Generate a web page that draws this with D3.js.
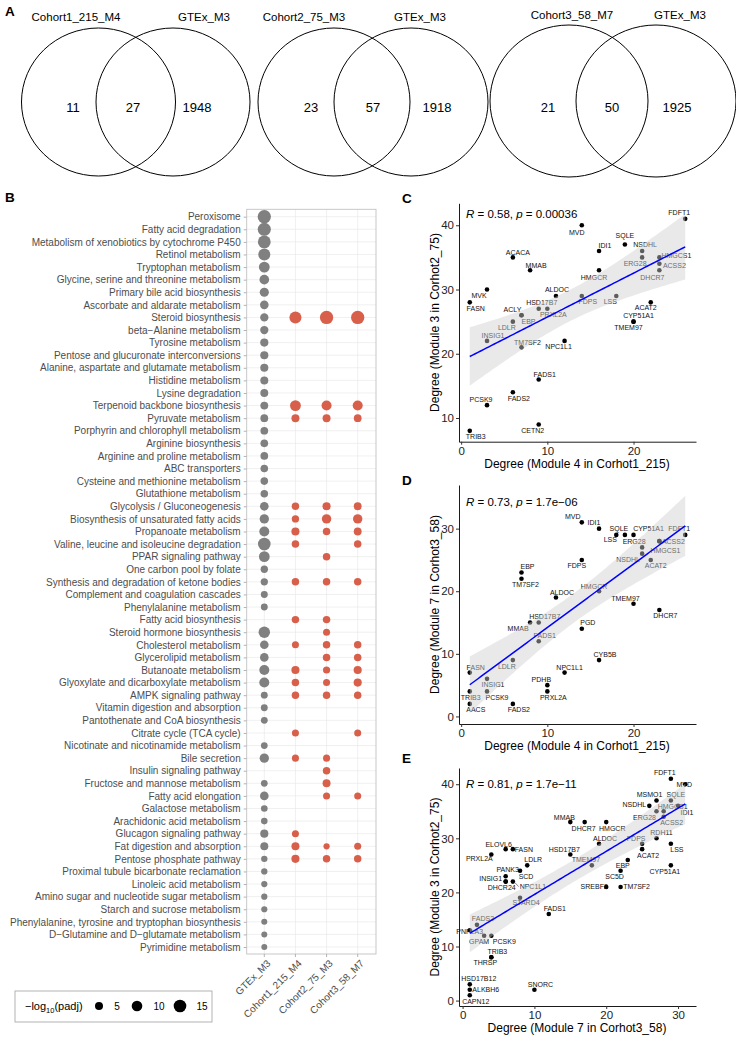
<!DOCTYPE html>
<html><head><meta charset="utf-8">
<script src="https://cdn.jsdelivr.net/npm/d3@7"></script>
<style>
body{margin:0;background:#fff}
svg{display:block}
text{font-family:"Liberation Sans",Arial,Helvetica,sans-serif}
</style>
</head><body>
<svg id="fig" width="736" height="1037"></svg>
<script>
// ---------------- DATA ----------------
// Panel A (Venn counts)
const vennLeftNames  = ["Cohort1_215_M4", "Cohort2_75_M3", "Cohort3_58_M7"];
const vennRightNames = ["GTEx_M3", "GTEx_M3", "GTEx_M3"];
const vennOnlyLeft   = [11, 23, 21];
const vennBoth       = [27, 57, 50];
const vennOnlyRight  = [1948, 1918, 1925];

// Panel B (KEGG enrichment, -log10 padj; null = not enriched)
const bColumns = ["GTEx_M3", "Cohort1_215_M4", "Cohort2_75_M3", "Cohort3_58_M7"];
const pathways = [
 "Peroxisome","Fatty acid degradation","Metabolism of xenobiotics by cytochrome P450","Retinol metabolism",
 "Tryptophan metabolism","Glycine, serine and threonine metabolism","Primary bile acid biosynthesis",
 "Ascorbate and aldarate metabolism","Steroid biosynthesis","beta\u2212Alanine metabolism","Tyrosine metabolism",
 "Pentose and glucuronate interconversions","Alanine, aspartate and glutamate metabolism","Histidine metabolism",
 "Lysine degradation","Terpenoid backbone biosynthesis","Pyruvate metabolism","Porphyrin and chlorophyll metabolism",
 "Arginine biosynthesis","Arginine and proline metabolism","ABC transporters","Cysteine and methionine metabolism",
 "Glutathione metabolism","Glycolysis / Gluconeogenesis","Biosynthesis of unsaturated fatty acids",
 "Propanoate metabolism","Valine, leucine and isoleucine degradation","PPAR signaling pathway",
 "One carbon pool by folate","Synthesis and degradation of ketone bodies","Complement and coagulation cascades",
 "Phenylalanine metabolism","Fatty acid biosynthesis","Steroid hormone biosynthesis","Cholesterol metabolism",
 "Glycerolipid metabolism","Butanoate metabolism","Glyoxylate and dicarboxylate metabolism","AMPK signaling pathway",
 "Vitamin digestion and absorption","Pantothenate and CoA biosynthesis","Citrate cycle (TCA cycle)",
 "Nicotinate and nicotinamide metabolism","Bile secretion","Insulin signaling pathway",
 "Fructose and mannose metabolism","Fatty acid elongation","Galactose metabolism","Arachidonic acid metabolism",
 "Glucagon signaling pathway","Fat digestion and absorption","Pentose phosphate pathway",
 "Proximal tubule bicarbonate reclamation","Linoleic acid metabolism","Amino sugar and nucleotide sugar metabolism",
 "Starch and sucrose metabolism","Phenylalanine, tyrosine and tryptophan biosynthesis",
 "D\u2212Glutamine and D\u2212glutamate metabolism","Pyrimidine metabolism"];
const gtexVals = [17,16.5,15.5,13.5,10.5,8,7,6,5.5,5.4,5.3,5.2,5.1,5,4.9,4.8,4.7,4.6,4.5,4.5,4.4,4.3,4.2,6.1,7.3,8.7,15,10.3,4,4,3.5,3.4,null,12,6,6,8.7,8.7,3.4,3.4,3.3,null,3.2,7.3,null,3.2,6,3.1,3,5.2,5,2.8,2.7,2.6,2.6,2.5,2.4,2.3,2.3];
const cohort1Vals = [null,null,null,null,null,null,null,null,13.5,null,null,null,null,null,null,10.5,5,null,null,null,null,null,null,4.2,4,5.2,4.2,null,null,4.2,null,null,4.2,null,3.6,null,5.2,4.2,4.2,null,null,3.6,null,3.6,null,null,null,null,null,3.6,5,5.2,null,null,null,null,null,null,null];
const cohort2Vals = [null,null,null,null,null,null,null,null,17,null,null,null,null,null,null,8.7,5,null,null,null,null,null,null,5.2,7.5,4.2,null,4.2,null,4.2,null,null,4.2,3.6,4.2,4.2,3.8,3.6,4.2,null,null,null,null,3.6,4.2,5,3.6,null,null,null,2.6,4.2,null,null,null,null,null,null,null];
const cohort3Vals = [null,null,null,null,null,null,null,null,17,null,null,null,null,null,null,8.7,4.6,null,null,null,null,null,null,4.8,7.5,4.8,4.2,null,null,4.2,null,null,null,null,4.2,4.2,5.2,5.2,4.2,null,null,3.6,null,null,null,null,3.6,null,null,null,3.6,4.2,null,null,null,null,null,null,null];
const legendSizes = [5, 10, 15];

// Panel C
const genesC = ["FDFT1","MVD","SQLE","IDI1","NSDHL","HMGCS1","ERG28","ACSS2","DHCR7","HMGCR","ACACA","MMAB","MVK","FASN","ALDOC","FDPS","LSS","ACAT2","CYP51A1","TMEM97","HSD17B7","PRXL2A","ACLY","EBP","LDLR","INSIG1","TM7SF2","NPC1L1","FADS1","FADS2","PCSK9","CETN2","TRIB3"];
const xC = [26,14,19,16,21,23,21,23,23,16,6,8,3,1,11,14,18,22,20,20,9,10,7,7,6,3,7,12,9,6,3,9,1];
const yC = [41,40,37,36,36,35,35,34,33,33,35,33,30,28,29,29,29,28,25,25,27,27,26,26,25,22,21,22,16,14,12,9,8];
// Panel D
const genesD = ["MVD","IDI1","SQLE","CYP51A1","FDFT1","LSS","ERG28","ACSS2","HMGCS1","NSDHL","ACAT2","FDPS","EBP","TM7SF2","HMGCR","ALDOC","TMEM97","DHCR7","HSD17B7","MMAB","PGD","FADS1","CYB5B","LDLR","FASN","NPC1L1","INSIG1","PDHB","TRIB3","PCSK9","PRXL2A","AACS","FADS2"];
const xD = [14,16,19,20,26,18,21,23,23,21,22,14,7,7,16,11,20,23,9,8,14,9,16,6,1,12,3,10,1,3,10,1,6];
const yD = [31,30,29,29,29,29,27,28,28,26,25,25,23,22,20,19,18,17,15,15,14,12,9,9,7,7,6,5,4,4,4,2,2];
// Panel E
const genesE = ["FDFT1","MVD","MSMO1","SQLE","NSDHL","HMGCS1","IDI1","ERG28","ACSS2","MMAB","DHCR7","HMGCR","ALDOC","FDPS","RDH11","LSS","ACAT2","ELOVL6","FASN","PRXL2A","HSD17B7","TMEM97","EBP","LDLR","CYP51A1","SC5D","PANK3","SCD","INSIG1","DHCR24","NPC1L1","SREBF2","TM7SF2","STARD4","FADS1","FADS2","PNPLA3","GPAM","PCSK9","TRIB3","THRSP","SNORC","HSD17B12","ALKBH6","CAPN12"];
const xE = [29,31,27,29,26,28,30,27,28,15,17,20,19,25,27,29,25,6,7,4,15,18,23,9,29,22,6,8,6,6,7,20,22,8,12,2,1,3,4,4,4,10,1,1,1];
const yE = [41,40,37,37,36,35,36,35,34,33,33,33,29,29,30,29,28,28,28,27,27,25,26,25,25,24,23,24,22,22,22,21,21,19,16,14,13,12,12,8,8,2,3,2,1];

const statR = ["0.58", "0.73", "0.81"];
const statP = ["0.00036", "1.7e\u221206", "1.7e\u221211"];
const xTitles = ["Degree (Module 4 in Corhot1_215)", "Degree (Module 4 in Corhot1_215)", "Degree (Module 7 in Corhot3_58)"];
const yTitles = ["Degree (Module 3 in Corhot2_75)", "Degree (Module 7 in Corhot3_58)", "Degree (Module 3 in Corhot2_75)"];

// ---------------- LAYOUT (label nudges, px) ----------------
const nudgeC = {FDFT1:[-6,-6],MVD:[-5,7],SQLE:[0,-9],IDI1:[6,-5],NSDHL:[3,-6],HMGCS1:[17,-2],ERG28:[-7,6],ACSS2:[15,2],DHCR7:[-7,7],HMGCR:[-5,7],ACACA:[5,-5],MMAB:[6,-5],MVK:[-8,6],FASN:[6,6],ALDOC:[1,-6],FDPS:[6,6],LSS:[-6,6],ACAT2:[-5,5],CYP51A1:[5,-6],TMEM97:[-5,6],HSD17B7:[3,-6],PRXL2A:[6,6],ACLY:[-9,-6],EBP:[7,6],LDLR:[-6,6],INSIG1:[6,-5],TM7SF2:[6,-5],NPC1L1:[-6,6],FADS1:[6,-5],FADS2:[6,6],PCSK9:[-6,-6],CETN2:[-6,6],TRIB3:[6,6]};
const nudgeD = {MVD:[-9,-6],IDI1:[-5,-6],SQLE:[-6,-6],CYP51A1:[15,-6],FDFT1:[-6,-6],LSS:[-6,5],ERG28:[-8,-6],ACSS2:[14,0],HMGCS1:[6,9],NSDHL:[-14,6],ACAT2:[5,6],FDPS:[-5,6],EBP:[6,-6],TM7SF2:[4,6],HMGCR:[-5,-5],ALDOC:[6,-5],TMEM97:[-8,-5],DHCR7:[6,6],HSD17B7:[6,-6],MMAB:[-12,6],PGD:[6,-6],FADS1:[6,-6],CYB5B:[6,-6],LDLR:[-6,6],FASN:[6,-5],NPC1L1:[5,-5],INSIG1:[6,6],PDHB:[-6,-6],TRIB3:[1,6],PCSK9:[10,6],PRXL2A:[6,6],AACS:[6,6],FADS2:[6,6]};
const nudgeE = {FDFT1:[-6,-6],MVD:[-1,0],MSMO1:[-7,-6],SQLE:[5,-6],NSDHL:[-15,-1],HMGCS1:[9,-5],IDI1:[9,7],ERG28:[-12,6],ACSS2:[8,6],MMAB:[-6,-5],DHCR7:[-1,6],HMGCR:[6,6],ALDOC:[6,-5],FDPS:[-6,-5],RDH11:[5,-6],LSS:[6,6],ACAT2:[6,6],ELOVL6:[-7,-5],FASN:[11,0],PRXL2A:[-12,4],HSD17B7:[-6,-5],TMEM97:[-6,-6],EBP:[-5,6],LDLR:[6,-6],CYP51A1:[-6,6],SC5D:[-6,6],PANK3:[2,-7],SCD:[6,6],INSIG1:[-15,-3],DHCR24:[-4,6],NPC1L1:[20,5],SREBF2:[-12,0],TM7SF2:[16,0],STARD4:[6,5],FADS1:[6,-5],FADS2:[6,-6],PNPLA3:[0,1],GPAM:[-5,6],PCSK9:[13,6],TRIB3:[6,-6],THRSP:[-6,5],SNORC:[6,-5],HSD17B12:[9,-6],ALKBH6:[16,0],CAPN12:[6,6]};
const leaderE = ["NPC1L1"];

const svg = d3.select("#fig");
const FONT = '"Liberation Sans",Arial,Helvetica,sans-serif';

function letter(t, x, y) {
  svg.append("text").attr("x", x).attr("y", y).attr("font-size", 13.5).attr("font-weight", "bold").attr("fill", "#000").text(t);
}

// ---------------- PANEL A ----------------
letter("A", 5, 16);
const vennGeo = [
  {lcx: 98.5, rcx: 173, cy: 102, lrx: 77, rrx: 77, ry: 74, ly: 17, lLab: 76, rLab: 204, n: [73, 133, 197]},
  {lcx: 334, rcx: 411, cy: 102, lrx: 76, rrx: 77, ry: 74, ly: 17, lLab: 304, rLab: 420, n: [311, 373, 437]},
  {lcx: 569, rcx: 656, cy: 101, lrx: 79, rrx: 80, ry: 76, ly: 15, lLab: 572, rLab: 680, n: [548, 612, 677]}
];
vennGeo.forEach((g, i) => {
  const gA = svg.append("g");
  gA.append("ellipse").attr("cx", g.lcx).attr("cy", g.cy).attr("rx", g.lrx).attr("ry", g.ry)
    .attr("fill", "none").attr("stroke", "#000").attr("stroke-width", 1);
  gA.append("ellipse").attr("cx", g.rcx).attr("cy", g.cy).attr("rx", g.rrx).attr("ry", g.ry)
    .attr("fill", "none").attr("stroke", "#000").attr("stroke-width", 1);
  gA.append("text").attr("x", g.lLab).attr("y", g.ly).attr("dy", "0.35em").attr("text-anchor", "middle")
    .attr("font-size", 11.5).text(vennLeftNames[i]);
  gA.append("text").attr("x", g.rLab).attr("y", g.ly).attr("dy", "0.35em").attr("text-anchor", "middle")
    .attr("font-size", 11.5).text(vennRightNames[i]);
  [vennOnlyLeft[i], vennBoth[i], vennOnlyRight[i]].forEach((v, k) => {
    gA.append("text").attr("x", g.n[k]).attr("y", 107).attr("dy", "0.35em").attr("text-anchor", "middle")
      .attr("font-size", 13).text(v);
  });
});

// ---------------- PANEL B ----------------
letter("B", 5, 202);
const bFrame = {l: 246.7, r: 376, t: 209.3, b: 954};
const yB = d3.scalePoint().domain(pathways).range([216.7, 947]);
const xB = d3.scalePoint().domain(bColumns).range([264.3, 357.7]);
const sizeB = d3.scaleSqrt().domain([1, 16]).range([2.26, 6.48]);
const gB = svg.append("g");
// grid
gB.selectAll("line.gy").data(pathways).join("line")
  .attr("x1", bFrame.l).attr("x2", bFrame.r).attr("y1", d => yB(d)).attr("y2", d => yB(d))
  .attr("stroke", "#e6e6e6").attr("stroke-width", 0.6);
gB.selectAll("line.gx").data(bColumns).join("line")
  .attr("y1", bFrame.t).attr("y2", bFrame.b).attr("x1", d => xB(d)).attr("x2", d => xB(d))
  .attr("stroke", "#e6e6e6").attr("stroke-width", 0.6);
// points
const bSeries = [gtexVals, cohort1Vals, cohort2Vals, cohort3Vals];
const bPoints = [];
bSeries.forEach((arr, ci) => arr.forEach((v, ri) => { if (v != null) bPoints.push({col: bColumns[ci], path: pathways[ri], v, ci}); }));
gB.selectAll("circle").data(bPoints).join("circle")
  .attr("cx", d => xB(d.col)).attr("cy", d => yB(d.path)).attr("r", d => sizeB(d.v))
  .attr("fill", d => d.ci === 0 ? "#808080" : "#d8604b");
gB.append("rect").attr("x", bFrame.l).attr("y", bFrame.t).attr("width", bFrame.r - bFrame.l).attr("height", bFrame.b - bFrame.t)
  .attr("fill", "none").attr("stroke", "#c2c2c2").attr("stroke-width", 0.9);
// y axis
const yAxB = d3.axisLeft(yB).tickSize(3).tickPadding(3).tickSizeOuter(0);
const gy = gB.append("g").attr("transform", `translate(${bFrame.l},0)`).call(yAxB);
gy.select(".domain").remove();
gy.selectAll("line").attr("stroke", "#b3b3b3");
gy.selectAll("text").attr("font-size", 10).attr("fill", "#4d4d4d").attr("font-family", FONT);
// x axis
gB.selectAll("line.xt").data(bColumns).join("line")
  .attr("x1", d => xB(d)).attr("x2", d => xB(d)).attr("y1", bFrame.b).attr("y2", bFrame.b + 3).attr("stroke", "#b3b3b3");
gB.selectAll("text.xl").data(bColumns).join("text")
  .attr("transform", d => `translate(${xB(d) + 2},${bFrame.b + 5}) rotate(-45)`)
  .attr("text-anchor", "end").attr("dy", "0.7em").attr("font-size", 10).attr("fill", "#4d4d4d").text(d => d);
// legend
const gL = svg.append("g");
gL.append("rect").attr("x", 15).attr("y", 991).attr("width", 197).attr("height", 31)
  .attr("fill", "#fff").attr("stroke", "#a0a0a0").attr("stroke-width", 0.8);
const lt = gL.append("text").attr("x", 25).attr("y", 1010).attr("font-size", 11).attr("fill", "#000");
lt.append("tspan").text("\u2212log");
lt.append("tspan").attr("font-size", 7.5).attr("dy", 2.5).text("10");
lt.append("tspan").attr("dy", -2.5).text("(padj)");
const legX = [99, 137, 180];
const legTX = [117, 159, 202];
legendSizes.forEach((s, i) => {
  gL.append("circle").attr("cx", legX[i]).attr("cy", 1006).attr("r", sizeB(s)).attr("fill", "#000");
  gL.append("text").attr("x", legTX[i]).attr("y", 1006).attr("dy", "0.35em").attr("text-anchor", "middle")
    .attr("font-size", 10).text(s);
});

// ---------------- SCATTER PANELS ----------------
function tq(df) {
  const z = 1.959964;
  return z + (z**3 + z) / (4*df) + (5*z**5 + 16*z**3 + 3*z) / (96*df*df) + (3*z**7 + 19*z**5 + 17*z**3 - 15*z) / (384*df**3);
}
function scatter(k, genes, xs, ys, nudge, top, bottom, xTicks, yTicks, letterY, statY, leaders) {
  const n = xs.length;
  const xbar = d3.mean(xs), ybar = d3.mean(ys);
  let sxx = 0, sxy = 0;
  for (let i = 0; i < n; i++) { sxx += (xs[i]-xbar)**2; sxy += (xs[i]-xbar)*(ys[i]-ybar); }
  const b = sxy / sxx, a = ybar - b*xbar;
  let sse = 0; for (let i = 0; i < n; i++) sse += (ys[i] - a - b*xs[i])**2;
  const s = Math.sqrt(sse / (n - 2)), t = tq(n - 2);
  const [xmin, xmax] = d3.extent(xs);
  const band = d3.range(80).map(i => {
    const x0 = xmin + (xmax - xmin) * i / 79, yh = a + b*x0;
    const se = s * Math.sqrt(1/n + (x0-xbar)**2 / sxx);
    return {x: x0, y: yh, lo: yh - t*se, hi: yh + t*se};
  });
  const ylo = Math.min(d3.min(ys), d3.min(band, d => d.lo));
  const yhi = Math.max(d3.max(ys), d3.max(band, d => d.hi));
  const xr = xmax - xmin, yr = yhi - ylo;
  const x = d3.scaleLinear().domain([xmin - 0.05*xr, xmax + 0.05*xr]).range([459, 696]);
  const y = d3.scaleLinear().domain([ylo - 0.05*yr, yhi + 0.05*yr]).range([bottom, top]);
  const g = svg.append("g");
  letter(["C","D","E"][k], 402, letterY);
  // axes
  const ax = g.append("g").attr("transform", `translate(0,${bottom})`)
    .call(d3.axisBottom(x).tickValues(xTicks).tickSize(3).tickPadding(2).tickSizeOuter(0));
  const ay = g.append("g").attr("transform", `translate(459,0)`)
    .call(d3.axisLeft(y).tickValues(yTicks).tickSize(3).tickPadding(2).tickSizeOuter(0));
  [ax, ay].forEach(a0 => {
    a0.select(".domain").attr("stroke", "#000").attr("stroke-width", 0.9);
    a0.selectAll(".tick line").attr("stroke", "#333");
    a0.selectAll("text").attr("font-size", 11.5).attr("fill", "#222").attr("font-family", FONT);
  });
  g.append("text").attr("x", 577).attr("y", bottom + 26).attr("text-anchor", "middle").attr("font-size", 12)
    .text(xTitles[k]);
  g.append("text").attr("transform", `translate(439,${(top + bottom)/2}) rotate(-90)`).attr("text-anchor", "middle")
    .attr("font-size", 12).text(yTitles[k]);
  // points
  const pts = genes.map((gname, i) => ({g: gname, x: xs[i], y: ys[i]}));
  g.selectAll("circle.pt").data(pts).join("circle").attr("class", "pt")
    .attr("cx", d => x(d.x)).attr("cy", d => y(d.y)).attr("r", 2.3).attr("fill", "#000");
  // labels
  const lab = g.selectAll("text.lab").data(pts).join("text").attr("class", "lab")
    .attr("x", d => x(d.x) + nudge[d.g][0]).attr("y", d => y(d.y) + nudge[d.g][1])
    .attr("dy", "0.35em").attr("text-anchor", "middle").attr("font-size", 7).attr("fill", "#111").text(d => d.g);
  lab.each(function(d) {
    if (leaders.includes(d.g)) {
      const w = this.getComputedTextLength();
      g.append("line").attr("x1", x(d.x) + 2).attr("y1", y(d.y) + 1)
        .attr("x2", x(d.x) + nudge[d.g][0] - w/2 - 1).attr("y2", y(d.y) + nudge[d.g][1])
        .attr("stroke", "#333").attr("stroke-width", 0.6);
    }
  });
  // ribbon + line
  g.append("path").datum(band)
    .attr("d", d3.area().x(d => x(d.x)).y0(d => y(d.lo)).y1(d => y(d.hi)))
    .attr("fill", "#cfcfcf").attr("fill-opacity", 0.45);
  g.append("path").datum(band)
    .attr("d", d3.line().x(d => x(d.x)).y(d => y(d.y)))
    .attr("fill", "none").attr("stroke", "#0000ff").attr("stroke-width", 1.5);
  // stat
  const st = g.append("text").attr("x", 466).attr("y", statY).attr("font-size", 11.5).attr("fill", "#000");
  st.append("tspan").attr("font-style", "italic").text("R");
  st.append("tspan").text(" = " + statR[k] + ", ");
  st.append("tspan").attr("font-style", "italic").text("p");
  st.append("tspan").text(" = " + statP[k]);
}
scatter(0, genesC, xC, yC, nudgeC, 203.3, 441.7, [0,10,20], [10,20,30,40], 203, 218, []);
scatter(1, genesD, xD, yD, nudgeD, 485, 724, [0,10,20], [0,10,20,30], 485, 506, []);
scatter(2, genesE, xE, yE, nudgeE, 768, 1006, [0,10,20,30], [0,10,20,30,40], 763, 788, leaderE);
</script>
</body></html>
